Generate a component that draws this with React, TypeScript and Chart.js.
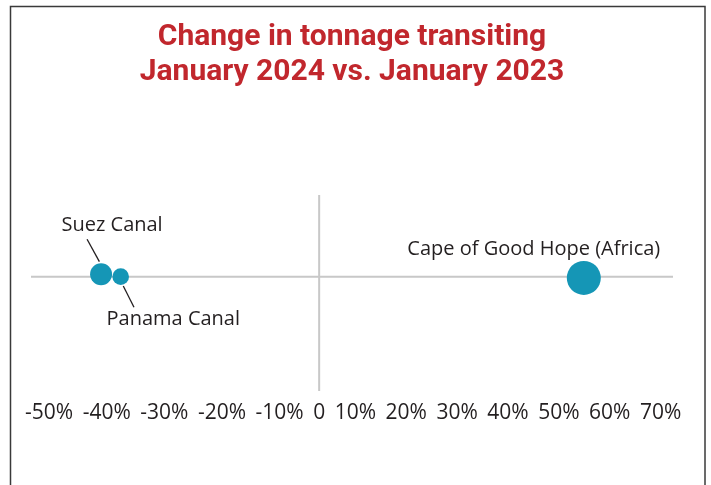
import React, { useEffect, useRef } from "react";
import { Chart, registerables } from "chart.js";

Chart.register(...registerables);

const titleLines = ["Change in tonnage transiting", "January 2024 vs. January 2023"];
const routes = ["Suez Canal", "Panama Canal", "Cape of Good Hope (Africa)"];
const changePct = [-44.5, -40.5, 54];
const yPos = [0.03, 0, -0.015];
const bubbleSize = [11, 8.3, 17];
const tickLabels = ["-50%", "-40%", "-30%", "-20%", "-10%", "0", "10%", "20%", "30%", "40%", "50%", "60%", "70%"];

// label placement relative to each point: text center dx, baseline dy, leader line (optional)
const labelLayout = [
  { dx: 11, dy: -43, leader: [-14, -35, -1.7, -12.6] },
  { dx: 52.6, dy: 48.3, leader: [2.6, 9.3, 13.3, 30.6] },
  { dx: -50, dy: -23, leader: null as null | number[] },
];

const TEXT = "#231f20";
const FONT = "'Open Sans', 'Noto Sans', sans-serif";
const TICK_GAP = 9.5;

const framePlugin = {
  id: "frame",
  beforeDraw(chart: any) {
    const ctx = chart.ctx;
    ctx.save();
    ctx.fillStyle = "#ffffff";
    ctx.fillRect(0, 0, chart.width, chart.height);
    ctx.strokeStyle = "#3a3a3a";
    ctx.lineWidth = 1.5;
    ctx.strokeRect(10.5, 6.5, 694.5, chart.height + 20);
    ctx.restore();
  },
};

const axesPlugin = {
  id: "zeroAxes",
  beforeDatasetsDraw(chart: any) {
    const { ctx, chartArea, scales } = chart;
    const x0 = scales.x.getPixelForValue(0);
    const y0 = scales.y.getPixelForValue(0);
    ctx.save();
    ctx.strokeStyle = "#c8c8c8";
    ctx.lineWidth = 2;
    ctx.beginPath();
    ctx.moveTo(chartArea.left, y0);
    ctx.lineTo(chartArea.right, y0);
    ctx.moveTo(x0, chartArea.top);
    ctx.lineTo(x0, chartArea.bottom);
    ctx.stroke();
    // tick labels typeset as one line, anchored so that "0" sits on the zero line
    ctx.font = `21px ${FONT}`;
    ctx.fillStyle = TEXT;
    ctx.textBaseline = "middle";
    ctx.textAlign = "left";
    const widths = tickLabels.map((t) => ctx.measureText(t).width);
    const zi = tickLabels.indexOf("0");
    let before = 0;
    for (let i = 0; i < zi; i++) before += widths[i] + TICK_GAP;
    let x = x0 - widths[zi] / 2 - before;
    const y = chartArea.bottom + 22;
    tickLabels.forEach((t, i) => {
      ctx.fillText(t, x, y);
      x += widths[i] + TICK_GAP;
    });
    ctx.restore();
  },
};

const labelPlugin = {
  id: "pointLabels",
  afterDatasetsDraw(chart: any) {
    const { ctx } = chart;
    const meta = chart.getDatasetMeta(0);
    ctx.save();
    ctx.font = `20px ${FONT}`;
    ctx.fillStyle = TEXT;
    ctx.textAlign = "center";
    ctx.textBaseline = "alphabetic";
    ctx.strokeStyle = "#231f20";
    ctx.lineWidth = 1.3;
    meta.data.forEach((el: any, i: number) => {
      const L = labelLayout[i];
      ctx.fillText(routes[i], el.x + L.dx, el.y + L.dy);
      if (L.leader) {
        ctx.beginPath();
        ctx.moveTo(el.x + L.leader[0], el.y + L.leader[1]);
        ctx.lineTo(el.x + L.leader[2], el.y + L.leader[3]);
        ctx.stroke();
      }
    });
    ctx.restore();
  },
};

export default function App() {
  const ref = useRef<HTMLCanvasElement>(null);
  useEffect(() => {
    if (!ref.current) return;
    const chart = new Chart(ref.current, {
      type: "bubble",
      data: {
        datasets: [
          {
            label: "Change in tonnage",
            data: routes.map((_, i) => ({ x: changePct[i], y: yPos[i], r: bubbleSize[i] })),
            backgroundColor: "#1596b6",
            borderColor: "#1596b6",
            borderWidth: 0,
          },
        ],
      },
      options: {
        animation: false,
        responsive: false,
        layout: { padding: { left: 31, right: 38, top: 0, bottom: 94 } },
        scales: {
          x: { type: "linear", display: false, min: -58.8, max: 72.2 },
          y: { type: "linear", display: false, min: -1.4, max: 1 },
        },
        plugins: {
          legend: { display: false },
          tooltip: { enabled: false },
          title: {
            display: true,
            text: titleLines,
            color: "#c1272d",
            font: { family: "Roboto, 'Open Sans', sans-serif", size: 30, weight: "bold", lineHeight: 35 / 30 },
            padding: { top: 19.5, bottom: 105.5 },
          },
        },
      },
      plugins: [framePlugin, axesPlugin, labelPlugin],
    });
    return () => chart.destroy();
  }, []);
  return (
    <div style={{ position: "absolute", left: 0, top: 0, width: 711, height: 485 }}>
      <canvas ref={ref} width={711} height={485} />
    </div>
  );
}
